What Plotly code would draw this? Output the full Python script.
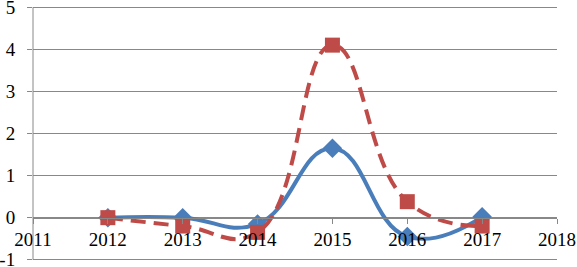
import plotly.graph_objects as go

years = [2012, 2013, 2014, 2015, 2016, 2017]
blue_values = [0.0, 0.0, -0.15, 1.65, -0.45, 0.02]
red_values = [0.0, -0.2, -0.35, 4.1, 0.38, -0.2]
x_ticks = [2011, 2012, 2013, 2014, 2015, 2016, 2017, 2018]
y_ticks = [-1, 0, 1, 2, 3, 4, 5]

fig = go.Figure()
fig.add_trace(go.Scatter(
    x=years, y=blue_values, mode="lines+markers",
    line=dict(color="#4A7EBB", width=4, shape="spline", smoothing=1.3),
    marker=dict(symbol="diamond", size=15, color="#4A7EBB"),
    showlegend=False, cliponaxis=False,
))
fig.add_trace(go.Scatter(
    x=years, y=red_values, mode="lines+markers",
    line=dict(color="#BE4B48", width=4, shape="spline", smoothing=1.3, dash="15px,8px"),
    marker=dict(symbol="square", size=15, color="#BE4B48"),
    showlegend=False, cliponaxis=False,
))

font = dict(family="Liberation Serif", size=19, color="black")
fig.update_layout(
    width=577, height=267,
    margin=dict(l=33, r=20, t=6, b=6, autoexpand=False),
    paper_bgcolor="white", plot_bgcolor="white",
    font=font,
    xaxis=dict(
        range=[2011, 2018], tickvals=x_ticks, ticktext=[str(v) for v in x_ticks],
        showgrid=False, zeroline=False,
        showline=True, linecolor="#888888", linewidth=1,
        ticks="outside", ticklen=5, tickcolor="#888888",
        anchor="free", position=1.03 / 6.06, tickfont=font, automargin=False,
        ticklabeloverflow="allow",
    ),
    yaxis=dict(
        range=[-1.03, 5.03], tickvals=y_ticks, ticktext=[str(v) for v in y_ticks],
        showgrid=True, gridcolor="#888888", gridwidth=1,
        zeroline=False,
        showline=False,
        ticks="outside", ticklen=5, tickcolor="#888888",
        tickfont=font, ticklabelstandoff=8, automargin=False,
        ticklabeloverflow="allow",
    ),
)
# vertical axis line spanning the value range (-1 to 5) at the left edge
fig.add_shape(type="line", xref="paper", yref="y", x0=0, x1=0, y0=y_ticks[0], y1=y_ticks[-1],
              line=dict(color="#888888", width=1))
fig.write_html("out.html", config={"displayModeBar": False},
               post_script="document.body.style.margin='0';")
